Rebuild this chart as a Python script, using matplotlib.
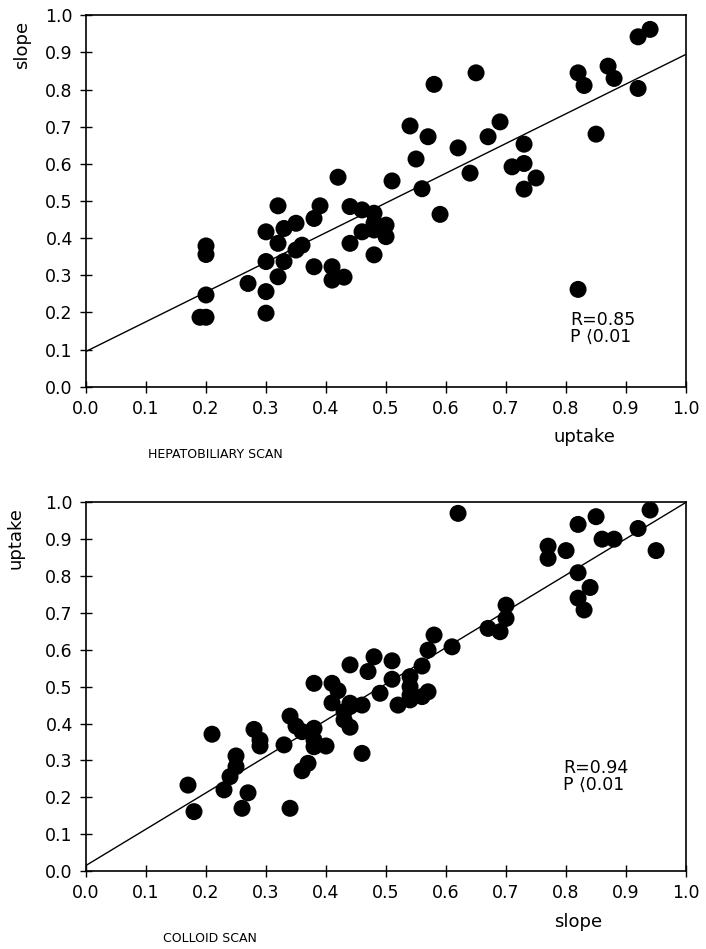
import matplotlib
matplotlib.use("Agg")
import matplotlib.pyplot as plt
import numpy as np

# ── Data ──────────────────────────────────────────────────────────────────────
hep_uptake = [0.19, 0.20, 0.20, 0.20, 0.20, 0.27, 0.30, 0.30, 0.30, 0.30,
              0.32, 0.32, 0.32, 0.33, 0.33, 0.35, 0.35, 0.36, 0.38, 0.38,
              0.39, 0.41, 0.41, 0.42, 0.43, 0.44, 0.44, 0.46, 0.46, 0.48,
              0.48, 0.48, 0.48, 0.50, 0.50, 0.51, 0.54, 0.55, 0.56, 0.57,
              0.58, 0.59, 0.62, 0.64, 0.65, 0.67, 0.69, 0.71, 0.73, 0.73,
              0.73, 0.75, 0.82, 0.82, 0.83, 0.85, 0.87, 0.88, 0.92, 0.92,
              0.94]
hep_slope  = [0.187, 0.187, 0.247, 0.356, 0.379, 0.278, 0.198, 0.256, 0.337, 0.417,
              0.296, 0.386, 0.487, 0.337, 0.426, 0.368, 0.440, 0.381, 0.323, 0.453,
              0.487, 0.287, 0.323, 0.564, 0.295, 0.386, 0.485, 0.417, 0.476, 0.355,
              0.422, 0.440, 0.467, 0.404, 0.435, 0.554, 0.702, 0.613, 0.533, 0.673,
              0.814, 0.464, 0.643, 0.575, 0.845, 0.673, 0.713, 0.592, 0.532, 0.601,
              0.653, 0.562, 0.262, 0.845, 0.811, 0.680, 0.863, 0.830, 0.803, 0.942,
              0.962]
hep_fit    = [0.095, 0.895]   # line value at x=0 and x=1
hep_stats  = "R=0.85\nP \u27e80.01"

col_slope  = [0.17, 0.18, 0.21, 0.23, 0.24, 0.25, 0.25, 0.26, 0.27, 0.28,
              0.29, 0.29, 0.33, 0.34, 0.34, 0.35, 0.36, 0.36, 0.37, 0.38,
              0.38, 0.38, 0.38, 0.40, 0.41, 0.41, 0.42, 0.43, 0.43, 0.44,
              0.44, 0.44, 0.44, 0.46, 0.46, 0.47, 0.48, 0.49, 0.51, 0.51,
              0.52, 0.54, 0.54, 0.54, 0.54, 0.56, 0.57, 0.56, 0.57, 0.58,
              0.61, 0.62, 0.67, 0.69, 0.70, 0.70, 0.77, 0.77, 0.80, 0.82,
              0.82, 0.82, 0.83, 0.84, 0.85, 0.86, 0.88, 0.92, 0.94, 0.95]
col_uptake = [0.233, 0.161, 0.371, 0.220, 0.256, 0.283, 0.312, 0.170, 0.212, 0.384,
              0.355, 0.339, 0.342, 0.420, 0.170, 0.393, 0.378, 0.272, 0.292, 0.387,
              0.355, 0.337, 0.509, 0.339, 0.509, 0.456, 0.489, 0.410, 0.432, 0.559,
              0.446, 0.390, 0.455, 0.450, 0.319, 0.541, 0.581, 0.482, 0.570, 0.520,
              0.450, 0.527, 0.500, 0.464, 0.477, 0.473, 0.486, 0.556, 0.599, 0.640,
              0.608, 0.970, 0.658, 0.649, 0.685, 0.721, 0.881, 0.848, 0.869, 0.940,
              0.809, 0.740, 0.708, 0.769, 0.961, 0.900, 0.900, 0.929, 0.979, 0.869]
col_fit    = [0.015, 1.0]
col_stats  = "R=0.94\nP \u27e80.01"

ticks = [0.0, 0.1, 0.2, 0.3, 0.4, 0.5, 0.6, 0.7, 0.8, 0.9, 1.0]

plt.rcParams.update({
    "font.family": "DejaVu Sans",
    "font.size": 12,
})

fig = plt.figure(figsize=(7.06, 9.49), dpi=100)
ax1 = fig.add_axes([0.1218, 0.5925, 0.850, 0.3914])
ax2 = fig.add_axes([0.1218, 0.0822, 0.850, 0.3885])


def panel(ax, xs, ys, fit, stats, stats_xy, xlab, xlab_xy, ylab, ylab_xy, title, title_xy):
    ax.scatter(xs, ys, s=150, color="black", edgecolors="none", zorder=3)
    fx = np.array([0.0, 1.0])
    ax.plot(fx, [fit[0], fit[1]], color="black", linewidth=1.0, zorder=2)
    ax.set_xlim(0, 1)
    ax.set_ylim(0, 1)
    ax.set_xticks(ticks)
    ax.set_yticks(ticks)
    ax.set_xticklabels([f"{t:.1f}" for t in ticks], fontsize=12.5)
    ax.set_yticklabels([f"{t:.1f}" for t in ticks], fontsize=12.5)
    ax.tick_params(direction="inout", length=9, width=1.0, pad=5)
    for sp in ax.spines.values():
        sp.set_linewidth(1.2)
    ax.text(stats_xy[0], stats_xy[1], stats, transform=ax.transAxes,
            fontsize=12.5, ha="left", va="top", linespacing=0.95)
    fig.text(xlab_xy[0], xlab_xy[1], xlab, fontsize=13, ha="center", va="center")
    fig.text(ylab_xy[0], ylab_xy[1], ylab, fontsize=13, ha="center", va="center",
             rotation=90)
    fig.text(title_xy[0], title_xy[1], title, fontsize=9, ha="center", va="center")


panel(ax1, hep_uptake, hep_slope, hep_fit, hep_stats, (0.807, 0.205),
      "uptake", (584/706, 1-437/949), "slope", (22/706, 1-45/949),
      "HEPATOBILIARY SCAN", (215/706, 1-455/949))
panel(ax2, col_slope, col_uptake, col_fit, col_stats, (0.795, 0.305),
      "slope", (578/706, 1-922/949), "uptake", (16/706, 1-538/949),
      "COLLOID SCAN", (210/706, 1-938/949))

plt.savefig("out.png", dpi=100)
